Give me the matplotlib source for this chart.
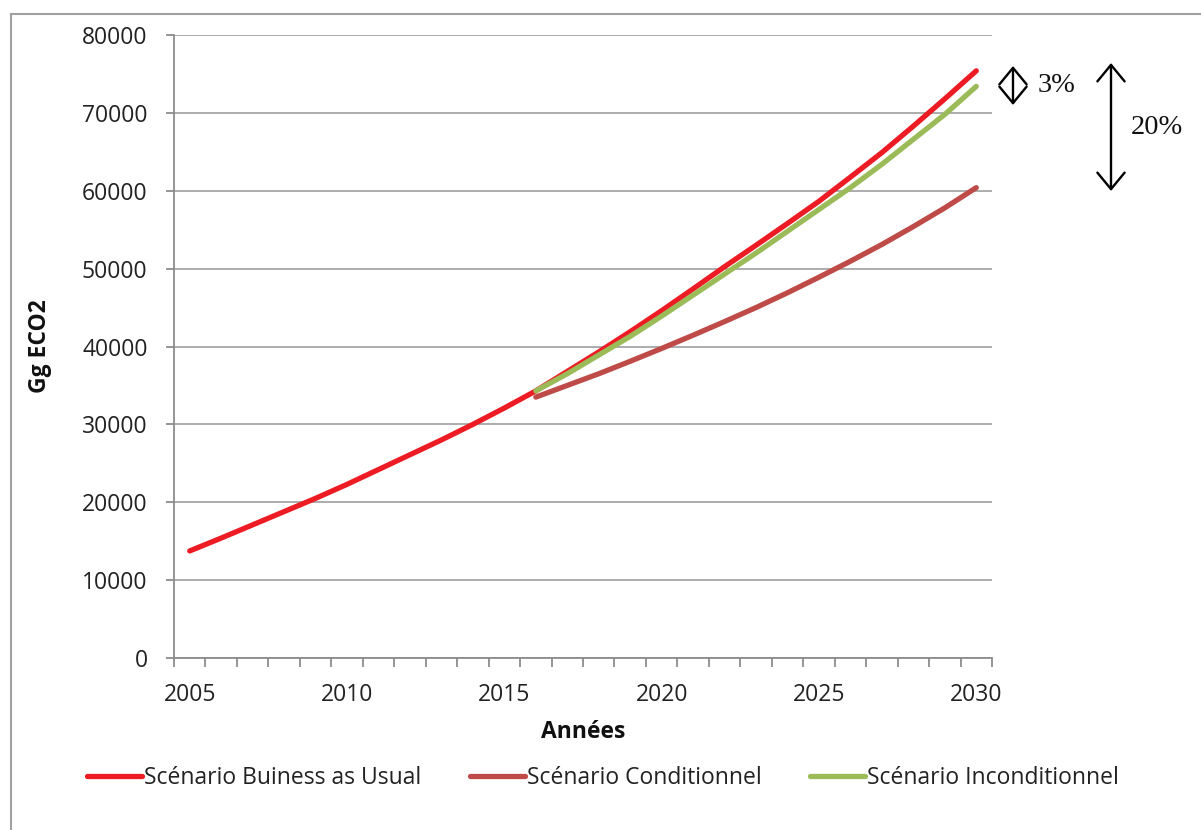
import matplotlib
matplotlib.use("Agg")
import matplotlib.pyplot as plt
from matplotlib.lines import Line2D

plt.rcParams['font.family'] = ['Open Sans', 'DejaVu Sans']

years = list(range(2005, 2031))
bau = [13750, 15400, 17100, 18800, 20500, 22300, 24200, 26100, 28000, 30000,
       32100, 34300, 36800, 39300, 41900, 44600, 47400, 50250, 53000, 55800,
       58650, 61750, 64900, 68300, 71800, 75400]
years_scen = list(range(2016, 2031))
conditionnel = [33500, 35000, 36500, 38100, 39750, 41450, 43200, 45000, 46900,
                48900, 50950, 53100, 55400, 57800, 60400]
inconditionnel = [34300, 36500, 38900, 41300, 43900, 46600, 49300, 52000, 54800,
                  57600, 60400, 63400, 66600, 69800, 73400]
labels = ["Scénario Buiness as Usual", "Scénario Conditionnel", "Scénario Inconditionnel"]
colors = ["#ED1C24", "#BE4B48", "#9BBB59"]
y_ticks = list(range(0, 80001, 10000))
x_label_years = [2005, 2010, 2015, 2020, 2025, 2030]

W, H = 1201, 830
fig = plt.figure(figsize=(W / 100, H / 100), dpi=100)
ax = fig.add_axes([174 / W, 1 - 658 / H, (992 - 174) / W, (658 - 35) / H])

lw = 3.8
ax.plot(years, bau, color=colors[0], lw=lw, solid_capstyle='round', label=labels[0], zorder=3)
ax.plot(years_scen, conditionnel, color=colors[1], lw=lw, solid_capstyle='round', label=labels[1], zorder=3)
ax.plot(years_scen, inconditionnel, color=colors[2], lw=lw, solid_capstyle='round', label=labels[2], zorder=4)

ax.set_xlim(years[0] - 0.5, years[-1] + 0.5)
ax.set_ylim(0, 80000)

grid_c = "#A6A6A6"
axis_c = "#8C8C8C"
ax.set_yticks(y_ticks)
ax.set_yticklabels([str(v) for v in y_ticks])
ax.yaxis.grid(True, color=grid_c, lw=1.3)
ax.set_axisbelow(True)

# boundary tick marks (major, no labels), labels at centres (minor, no marks)
ax.set_xticks([y - 0.5 for y in years] + [years[-1] + 0.5])
ax.set_xticklabels([])
ax.set_xticks(x_label_years, minor=True)
ax.set_xticklabels([str(y) for y in x_label_years], minor=True)
ax.tick_params(axis='x', which='major', length=6.5, width=1.3, color=axis_c, direction='out')
ax.tick_params(axis='x', which='minor', length=0, pad=18, labelsize=16.5, labelcolor='#222222')
ax.tick_params(axis='y', length=6, width=1.3, color=axis_c, direction='out', pad=13,
               labelsize=16.5, labelcolor='#222222')

for s in ['top', 'right']:
    ax.spines[s].set_visible(False)
for s in ['left', 'bottom']:
    ax.spines[s].set_color(axis_c)
    ax.spines[s].set_linewidth(1.3)

fig.text(583 / W, 1 - 732 / H, "Années", ha='center', va='center', fontsize=16.5,
         fontweight='bold', color='#111111')
fig.text(40 / W, 1 - 346 / H, "Gg ECO2", ha='center', va='center', rotation=90,
         fontsize=16.5, fontweight='bold', color='#111111')

leg = fig.legend(loc='center', bbox_to_anchor=(603 / W, 1 - 778 / H), ncol=3, frameon=False,
                 fontsize=16.5, handlelength=2.4, handletextpad=0.1, columnspacing=2.1)
for t in leg.get_texts():
    t.set_color('#222222')

# frame border
border_c = "#A0A0A0"
fig.add_artist(Line2D([11 / W, 11 / W], [0, 1 - 14 / H], color=border_c, lw=1.5))
fig.add_artist(Line2D([11 / W, 1], [1 - 14 / H, 1 - 14 / H], color=border_c, lw=1.5))

# percentage arrows
arrow_style = dict(arrowstyle='<->,head_length=0.85,head_width=0.7', color='black', lw=1.7,
                   mutation_scale=14, shrinkA=0, shrinkB=0)
fig.add_artist(matplotlib.patches.FancyArrowPatch((1013 / W, 1 - 105 / H), (1013 / W, 1 - 66 / H),
                                                  transform=fig.transFigure, **arrow_style))
fig.add_artist(matplotlib.patches.FancyArrowPatch((1111 / W, 1 - 191 / H), (1111 / W, 1 - 63 / H),
                                                  transform=fig.transFigure, **arrow_style))
fig.text(1038 / W, 1 - 86 / H, "3%", ha='left', va='center', fontsize=20.5,
         family='Liberation Serif', color='#111111')
fig.text(1131 / W, 1 - 128 / H, "20%", ha='left', va='center', fontsize=20.5,
         family='Liberation Serif', color='#111111')

fig.savefig("out.png", dpi=100)
